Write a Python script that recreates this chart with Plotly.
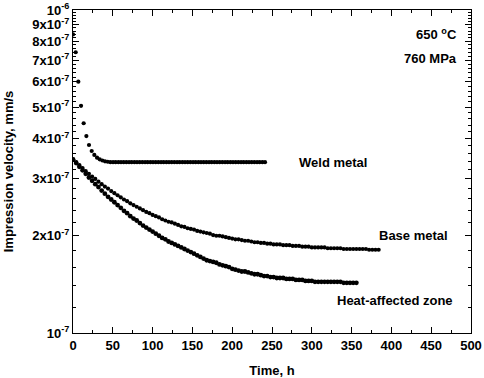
import plotly.graph_objects as go

# ---- data (velocity in units of 1e-7 mm/s) ----
weld_t = [0, 3.4, 6.7, 10.1, 13.4, 16.8, 20.1, 23.5, 26.8, 30.2, 33.5, 36.9, 40.2, 43.6, 46.9,
          50.3, 53.6, 57.0, 60.3, 63.7, 67.0, 70.4, 73.7, 77.1, 80.4, 83.8, 87.1, 90.5, 93.8,
          97.2, 100.5, 103.9, 107.2, 110.6, 113.9, 117.3, 120.6, 124.0, 127.3, 130.7, 134.0,
          137.4, 140.7, 144.1, 147.4, 150.8, 154.1, 157.5, 160.8, 164.2, 167.5, 170.9, 174.2,
          177.6, 180.9, 184.3, 187.6, 191.0, 194.3, 197.7, 201.0, 204.4, 207.7, 211.1, 214.4,
          217.8, 221.1, 224.5, 227.8, 231.2, 234.5, 237.9, 241.2]
weld_v = [8.4, 7.4, 6.0, 5.05, 4.46, 4.07, 3.82, 3.66, 3.56, 3.49, 3.45, 3.42, 3.40, 3.39,
          3.38, 3.38, 3.38, 3.38, 3.38, 3.38, 3.38, 3.38, 3.38, 3.38, 3.38, 3.38, 3.38, 3.38,
          3.38, 3.38, 3.38, 3.38, 3.38, 3.38, 3.38, 3.38, 3.38, 3.38, 3.38, 3.38, 3.38, 3.38,
          3.38, 3.38, 3.38, 3.38, 3.38, 3.38, 3.38, 3.38, 3.38, 3.38, 3.38, 3.38, 3.38, 3.38,
          3.38, 3.38, 3.38, 3.38, 3.38, 3.38, 3.38, 3.38, 3.38, 3.38, 3.38, 3.38, 3.38, 3.38,
          3.38, 3.38, 3.38]

base_t = [0, 4, 8, 12, 16, 20, 24, 28, 32, 36, 40, 44, 48, 52, 56, 60, 64, 68, 72, 76, 80,
          84, 88, 92, 96, 100, 104, 108, 112, 116, 120, 124, 128, 132, 136, 140, 144, 148,
          152, 156, 160, 164, 168, 172, 176, 180, 184, 188, 192, 196, 200, 204, 208, 212,
          216, 220, 224, 228, 232, 236, 240, 244, 248, 252, 256, 260, 264, 268, 272, 276,
          280, 284, 288, 292, 296, 300, 304, 308, 312, 316, 320, 324, 328, 332, 336, 340,
          344, 348, 352, 356, 360, 364, 368, 372, 376, 380, 384]
base_v = [3.45, 3.38, 3.31, 3.24, 3.17, 3.11, 3.05, 3.00, 2.94, 2.89, 2.84, 2.80, 2.75, 2.71,
          2.67, 2.63, 2.59, 2.56, 2.52, 2.49, 2.46, 2.43, 2.40, 2.37, 2.35, 2.32, 2.30, 2.28,
          2.25, 2.23, 2.21, 2.20, 2.18, 2.16, 2.14, 2.13, 2.11, 2.10, 2.09, 2.07, 2.06, 2.05,
          2.04, 2.03, 2.01, 2.00, 2.00, 1.99, 1.98, 1.97, 1.96, 1.95, 1.95, 1.94, 1.93, 1.93,
          1.92, 1.91, 1.91, 1.90, 1.90, 1.89, 1.89, 1.88, 1.88, 1.88, 1.87, 1.87, 1.87, 1.86,
          1.86, 1.86, 1.85, 1.85, 1.85, 1.84, 1.84, 1.84, 1.84, 1.84, 1.83, 1.83, 1.83, 1.83,
          1.83, 1.82, 1.82, 1.82, 1.82, 1.82, 1.82, 1.82, 1.82, 1.81, 1.81, 1.81, 1.81]

haz_t = [0, 4, 8, 12, 16, 20, 24, 28, 32, 36, 40, 44, 48, 52, 56, 60, 64, 68, 72, 76, 80,
         84, 88, 92, 96, 100, 104, 108, 112, 116, 120, 124, 128, 132, 136, 140, 144, 148,
         152, 156, 160, 164, 168, 172, 176, 180, 184, 188, 192, 196, 200, 204, 208, 212,
         216, 220, 224, 228, 232, 236, 240, 244, 248, 252, 256, 260, 264, 268, 272, 276,
         280, 284, 288, 292, 296, 300, 304, 308, 312, 316, 320, 324, 328, 332, 336, 340,
         344, 348, 352, 356]
haz_v = [3.45, 3.36, 3.27, 3.19, 3.11, 3.03, 2.96, 2.89, 2.83, 2.76, 2.70, 2.64, 2.59, 2.54,
         2.49, 2.44, 2.39, 2.35, 2.30, 2.26, 2.23, 2.19, 2.15, 2.12, 2.09, 2.06, 2.03, 2.00,
         1.97, 1.95, 1.92, 1.90, 1.88, 1.86, 1.84, 1.82, 1.80, 1.78, 1.76, 1.74, 1.72, 1.70,
         1.68, 1.67, 1.66, 1.65, 1.63, 1.62, 1.61, 1.60, 1.58, 1.57, 1.56, 1.55, 1.55, 1.54,
         1.53, 1.52, 1.52, 1.51, 1.50, 1.50, 1.49, 1.49, 1.48, 1.48, 1.48, 1.47, 1.47, 1.47,
         1.46, 1.46, 1.46, 1.45, 1.45, 1.45, 1.44, 1.44, 1.44, 1.44, 1.44, 1.44, 1.44, 1.44,
         1.44, 1.43, 1.43, 1.43, 1.43, 1.43]

y_major_vals = [1, 2, 3, 4, 5, 6, 7, 8, 9, 10]
y_major_text = ["10<sup>-7</sup>", "2x10<sup>-7</sup>", "3x10<sup>-7</sup>", "4x10<sup>-7</sup>",
                "5x10<sup>-7</sup>", "6x10<sup>-7</sup>", "7x10<sup>-7</sup>", "8x10<sup>-7</sup>",
                "9x10<sup>-7</sup>", "10<sup>-6</sup>"]
y_minor_steps = [0.2, 0.4, 0.6, 0.8]

SCALE = 1e-7
FONT = "Liberation Sans"

fig = go.Figure()
for t, v, sz in [(weld_t, weld_v, 4.2), (base_t, base_v, 4.2), (haz_t, haz_v, 4.8)]:
    fig.add_trace(go.Scatter(
        x=t, y=[val * SCALE for val in v], mode="markers",
        marker=dict(color="black", size=sz, line=dict(width=0)),
        showlegend=False, hoverinfo="skip"))

minor_vals = [(m + s) * SCALE for m in range(1, 10) for s in y_minor_steps]

fig.update_layout(
    width=484, height=378,
    margin=dict(l=73, r=13, t=10, b=45, autoexpand=False),
    paper_bgcolor="white", plot_bgcolor="white",
    font=dict(family=FONT, size=13, color="black"),
    xaxis=dict(
        range=[0, 500], tickmode="linear", tick0=0, dtick=50, automargin=False,
        ticks="inside", ticklen=6, tickwidth=1, tickcolor="black",
        showline=True, linecolor="black", linewidth=1.3, mirror="allticks",
        showgrid=False, zeroline=False,
        tickfont=dict(family=FONT, size=13, color="black", weight="bold"),
        minor=dict(dtick=25, ticks="inside", ticklen=3, tickcolor="black", showgrid=False),
        title=dict(text="<b>Time, h</b>", font=dict(family=FONT, size=13), standoff=14),
    ),
    yaxis=dict(
        type="log", range=[-7, -6], automargin=False,
        tickmode="array", tickvals=[v * SCALE for v in y_major_vals], ticktext=y_major_text,
        ticks="inside", ticklen=6, tickwidth=1, tickcolor="black",
        showline=True, linecolor="black", linewidth=1.3, mirror="allticks",
        showgrid=False, zeroline=False,
        tickfont=dict(family=FONT, size=13, color="black", weight="bold"),
        minor=dict(tickmode="array", tickvals=minor_vals, ticks="inside", ticklen=3,
                   tickcolor="black", showgrid=False),
        title=dict(text="<b>Impression velocity, mm/s</b>", font=dict(family=FONT, size=13),
                   standoff=15),
    ),
)

ann_font = dict(family=FONT, size=13, color="black", weight="bold")
fig.add_annotation(x=281, y=-6.4711, xref="x", yref="y", text="Weld metal",
                   showarrow=False, xanchor="left", yanchor="middle", font=ann_font)
fig.add_annotation(x=382, y=-6.699, xref="x", yref="y", text="Base metal",
                   showarrow=False, xanchor="left", yanchor="middle", font=ann_font)
fig.add_annotation(x=329, y=-6.898, xref="x", yref="y", text="Heat-affected zone",
                   showarrow=False, xanchor="left", yanchor="middle", font=ann_font)
fig.add_annotation(x=0.97, y=0.925, xref="paper", yref="paper", text="650 <sup>o</sup>C",
                   showarrow=False, xanchor="right", yanchor="middle", font=ann_font)
fig.add_annotation(x=0.97, y=0.85, xref="paper", yref="paper", text="760 MPa",
                   showarrow=False, xanchor="right", yanchor="middle", font=ann_font)

fig.write_html("out.html", config={"displayModeBar": False},
               post_script="document.body.style.margin='0';")
